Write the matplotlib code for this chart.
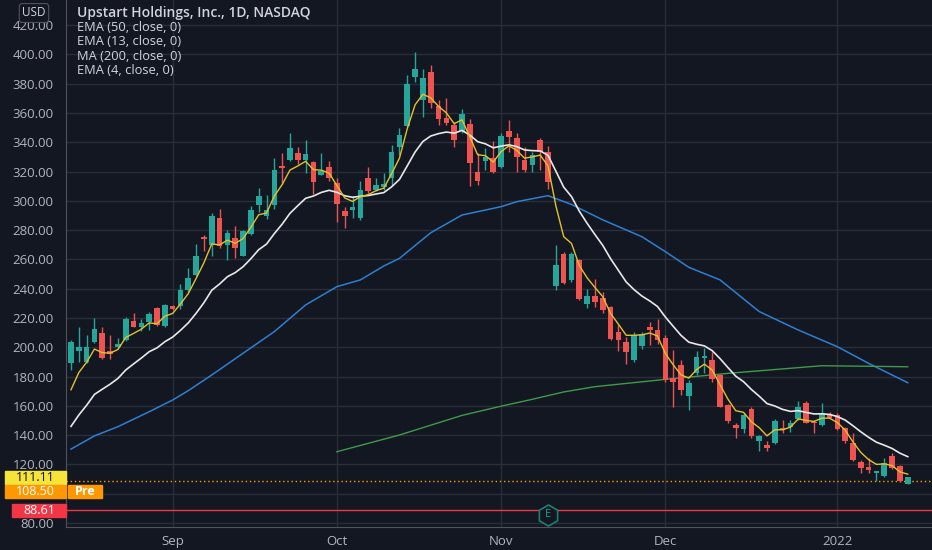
import matplotlib.pyplot as plt
import matplotlib.transforms as mtransforms
from matplotlib.patches import Rectangle
import numpy as np
import pandas as pd

plt.rcParams['font.family'] = ['Open Sans', 'DejaVu Sans']

# daily bars, 13 Aug 2021 .. 14 Jan 2022 (NASDAQ trading days)
holidays = ['2021-09-06', '2021-11-25', '2021-12-24']
dates = [d for d in pd.bdate_range('2021-08-13', '2022-01-14') if d.strftime('%Y-%m-%d') not in holidays]

opens = [189.1, 197.5, 190.2, 203.9, 210.0, 197.5, 200.0, 205.0, 218.0, 214.0,
         217.5, 226.6, 214.8, 228.0, 228.0, 239.3, 249.5, 275.2, 270.0, 288.2,
         270.0, 274.5, 262.0, 277.5, 297.3, 289.3, 297.3, 324.1, 328.0, 332.5,
         328.0, 326.8, 317.7, 323.4, 312.0, 293.2, 293.8, 288.2, 315.4, 307.5,
         309.1, 315.4, 337.0, 351.1, 384.3, 368.9, 388.0, 364.8, 356.4, 351.8,
         348.0, 352.5, 320.0, 327.5, 329.1, 323.0, 348.0, 343.2, 328.0, 324.5,
         341.6, 333.2, 241.6, 263.9, 245.7, 259.3, 229.8, 234.8, 233.7, 227.5,
         210.5, 203.6, 191.1, 200.9, 213.8, 212.0, 206.1, 179.3, 188.0, 166.4,
         182.3, 192.5, 191.4, 181.1, 160.7, 147.0, 144.1, 158.0, 135.7, 133.4,
         134.5, 144.8, 145.5, 150.9, 162.3, 149.3, 147.0, 153.9, 153.9, 144.8,
         134.5, 122.0, 118.6, 114.1, 111.8, 125.5, 119.1, 106.8]
highs = [205.0, 214.0, 208.4, 219.8, 214.0, 208.4, 206.0, 220.5, 223.6, 219.0,
         224.3, 227.3, 229.5, 228.9, 243.0, 254.0, 270.7, 276.8, 291.6, 294.3,
         280.4, 282.7, 280.2, 296.6, 308.6, 304.1, 329.1, 332.5, 346.1, 336.8,
         341.6, 327.0, 332.5, 327.3, 315.9, 296.0, 303.0, 313.6, 323.4, 315.4,
         318.9, 338.2, 349.5, 385.9, 401.8, 390.0, 393.0, 368.9, 370.0, 354.1,
         362.5, 355.7, 332.5, 335.9, 340.5, 346.6, 355.2, 346.1, 336.6, 333.6,
         342.7, 337.7, 269.5, 265.0, 265.0, 260.4, 240.0, 246.8, 237.7, 228.0,
         215.0, 207.0, 210.4, 210.4, 217.3, 219.5, 208.4, 198.2, 191.4, 177.7,
         197.7, 199.3, 197.0, 181.8, 161.4, 148.2, 155.0, 158.9, 140.2, 136.1,
         150.9, 150.5, 150.5, 163.0, 163.0, 150.5, 162.3, 156.1, 155.0, 145.9,
         141.8, 123.2, 124.3, 115.5, 124.3, 127.7, 119.8, 111.5]
lows = [184.5, 190.2, 189.1, 202.7, 191.8, 192.0, 199.3, 204.3, 213.6, 211.4,
        211.8, 214.8, 214.1, 225.5, 226.0, 238.0, 248.4, 265.4, 262.0, 267.8,
        259.8, 261.1, 262.0, 276.8, 292.7, 287.5, 294.3, 311.3, 327.0, 325.0,
        318.9, 304.5, 317.3, 313.2, 285.4, 281.3, 288.6, 287.0, 305.2, 306.4,
        307.5, 310.9, 331.4, 350.7, 380.9, 357.5, 363.2, 351.8, 351.8, 336.6,
        346.1, 309.8, 310.9, 321.1, 318.9, 322.3, 333.6, 320.0, 320.0, 320.0,
        321.0, 308.2, 239.3, 243.0, 244.5, 232.0, 227.0, 227.5, 223.4, 205.2,
        197.5, 188.9, 190.0, 198.8, 201.4, 202.5, 176.6, 159.5, 167.5, 157.3,
        181.1, 182.3, 176.6, 159.1, 148.6, 137.9, 141.4, 138.4, 128.9, 129.3,
        134.1, 141.4, 142.5, 150.5, 148.2, 141.4, 146.4, 151.6, 143.6, 134.5,
        122.7, 114.1, 114.5, 108.6, 111.4, 116.8, 107.7, 106.5]
closes = [203.9, 200.4, 200.4, 212.3, 192.5, 195.5, 202.3, 219.0, 213.6, 216.8,
          223.0, 215.2, 228.9, 226.0, 239.3, 247.3, 262.5, 273.9, 289.8, 268.9,
          278.0, 267.7, 279.1, 293.4, 303.4, 293.4, 320.7, 322.7, 335.9, 328.0,
          331.8, 312.7, 320.4, 315.9, 297.7, 289.3, 296.0, 307.5, 306.4, 310.9,
          311.4, 333.2, 345.0, 379.5, 390.0, 383.6, 366.6, 355.7, 353.4, 341.6,
          359.3, 326.1, 313.2, 329.8, 320.0, 344.3, 343.4, 329.8, 321.1, 331.4,
          333.0, 312.7, 255.9, 243.9, 263.9, 233.2, 234.8, 230.9, 225.2, 205.9,
          204.8, 196.8, 208.2, 208.9, 211.6, 204.8, 177.7, 176.6, 170.9, 175.5,
          193.6, 194.1, 178.2, 159.5, 150.0, 144.8, 153.9, 139.5, 139.1, 131.1,
          150.0, 143.6, 148.2, 159.5, 148.6, 148.2, 155.0, 151.6, 144.1, 135.7,
          123.2, 117.5, 115.9, 115.2, 120.9, 117.5, 108.4, 111.11]

# indicator values at the left edge
ema4_start = 171.0
ema13_start = 146.0

# EMA 50 and MA 200 at a few bars
ema50_bar = [0, 3, 6, 10, 13, 15, 18, 22, 26, 30, 34, 37, 40, 42, 46, 50, 55, 57,
             61, 64, 68, 73, 76, 79, 83, 88, 93, 98, 102, 107]
ema50_val = [130.5, 139.5, 145.8, 156.0, 164.0, 170.4, 181.1, 195.9, 210.7, 228.9,
             241.4, 246.0, 255.5, 260.7, 278.2, 290.3, 296.0, 299.4, 303.5, 297.5,
             287.0, 275.5, 265.3, 254.6, 246.0, 224.4, 211.8, 200.4, 189.0, 175.8]
ma200_bar = [34, 42, 50, 55, 59, 63, 67, 76, 84, 96, 107]
ma200_val = [128.7, 140.1, 153.5, 159.8, 164.5, 169.5, 173.1, 178.1, 182.2, 187.4, 186.7]

last_price = 111.11
pre_price = 108.50
low_line = 88.61
earnings_date = '2021-11-09'


def ema(values, length, start):
    k = 2 / (length + 1)
    out = [start]
    for v in values[1:]:
        out.append(out[-1] + k * (v - out[-1]))
    return out


bg = '#131722'
grid = '#2a2e39'
up = '#26a69a'
down = '#ef5350'
txt = '#d1d4dc'

fig = plt.figure(figsize=(9.32, 5.5), dpi=100, facecolor=bg)
ax = fig.add_axes([66 / 932, 23 / 550, 866 / 932, 527 / 550], facecolor=bg)

idx = np.arange(len(dates))
o = np.array(opens)
c = np.array(closes)
col = [up if cc >= oo else down for oo, cc in zip(o, c)]
ax.vlines(idx, lows, highs, colors=col, linewidth=1, zorder=3)
body = np.maximum(np.abs(c - o), 0.6)
ax.bar(idx, body, bottom=np.minimum(o, c), width=0.72, color=col, linewidth=0, zorder=4)

ax.plot(ema50_bar, ema50_val, color='#2f7fd0', lw=1.1, zorder=2)
ax.plot(ma200_bar, ma200_val, color='#3f9a4a', lw=1.0, zorder=2)
ax.plot(idx, ema(closes, 13, ema13_start), color='#e8e8e8', lw=1.2, zorder=5)
ax.plot(idx, ema(closes, 4, ema4_start), color='#e3c12b', lw=1.0, zorder=6)

ax.set_xlim(-0.64, 110.1)
ax.set_ylim(77.3, 437.1)
ax.set_yticks(np.arange(80, 421, 20))
# the 100.00 label sits under the price tags, so it is not shown
ax.yaxis.set_major_formatter(plt.FuncFormatter(lambda v, p: '' if v == 100 else f'{v:.2f}'))

month_pos = [i for i in range(1, len(dates)) if dates[i].month != dates[i - 1].month]
month_lab = [dates[i].strftime('%b') if dates[i].month != 1 else str(dates[i].year) for i in month_pos]
ax.set_xticks(month_pos)
ax.set_xticklabels(month_lab)
ax.grid(True, color=grid, lw=1)
ax.set_axisbelow(True)
ax.tick_params(length=0, colors='#b2b5be', labelsize=9.5)
ax.tick_params(axis='y', pad=9)
ax.tick_params(axis='x', pad=6)
for s in ['top', 'right']:
    ax.spines[s].set_visible(False)
for s in ['left', 'bottom']:
    ax.spines[s].set_color('#50535e')

# price lines
ax.axhline(pre_price, color='#ff9800', lw=1, ls=(0, (1, 2)), zorder=1)
ax.axhline(low_line, color='#f23645', lw=1, zorder=1)

# price labels on the scale
blend = mtransforms.blended_transform_factory(fig.transFigure, ax.transData)
bh = 13 / 1.465
lab_font = dict(fontsize=9, zorder=11)
ax.add_patch(Rectangle((5 / 932, last_price - bh / 2), 61 / 932, bh, transform=blend,
                       color='#f7e43a', clip_on=False, zorder=10))
ax.text(35 / 932, last_price, f'{last_price:.2f}', transform=blend, ha='center', va='center',
        color='#131722', **lab_font)
pre_y = last_price - bh * 1.08
ax.add_patch(Rectangle((5 / 932, pre_y - bh / 2), 61 / 932, bh, transform=blend,
                       color='#ff9800', clip_on=False, zorder=10))
ax.text(35 / 932, pre_y, f'{pre_price:.2f}', transform=blend, ha='center', va='center',
        color='white', **lab_font)
ax.add_patch(Rectangle((68 / 932, pre_y - bh / 2), 34 / 932, bh, transform=blend,
                       color='#ff9800', clip_on=False, zorder=10))
ax.text(85 / 932, pre_y, 'Pre', transform=blend, ha='center', va='center',
        color='white', fontweight='bold', **lab_font)
ax.add_patch(Rectangle((12 / 932, low_line - bh / 2), 54 / 932, bh, transform=blend,
                       color='#f23645', clip_on=False, zorder=10))
ax.text(39 / 932, low_line, f'{low_line:.2f}', transform=blend, ha='center', va='center',
        color='white', **lab_font)

# earnings marker
ei = [d.strftime('%Y-%m-%d') for d in dates].index(earnings_date)
ax.scatter([ei], [85.5], marker='h', s=230, facecolor=bg, edgecolor='#1e7f70', lw=1.2, zorder=8)
ax.text(ei, 85.5, 'E', ha='center', va='center', color='#1e9f88', fontsize=8, zorder=9)

# header
fig.text(34 / 932, 1 - 13 / 550, 'USD', ha='center', va='center', color=txt, fontsize=8.5,
         bbox=dict(boxstyle='round,pad=0.25', fc=bg, ec='#50535e', lw=0.8))
fig.text(77 / 932, 1 - 13 / 550, 'Upstart Holdings, Inc., 1D, NASDAQ', ha='left', va='center',
         color=txt, fontsize=10, fontweight='semibold')
legend = ['EMA (50, close, 0)', 'EMA (13, close, 0)', 'MA (200, close, 0)', 'EMA (4, close, 0)']
for k, s in enumerate(legend):
    fig.text(77 / 932, 1 - (27.5 + 14.3 * k) / 550, s, ha='left', va='center', color=txt, fontsize=9.3)

fig.savefig('out.png', dpi=100, facecolor=bg)
